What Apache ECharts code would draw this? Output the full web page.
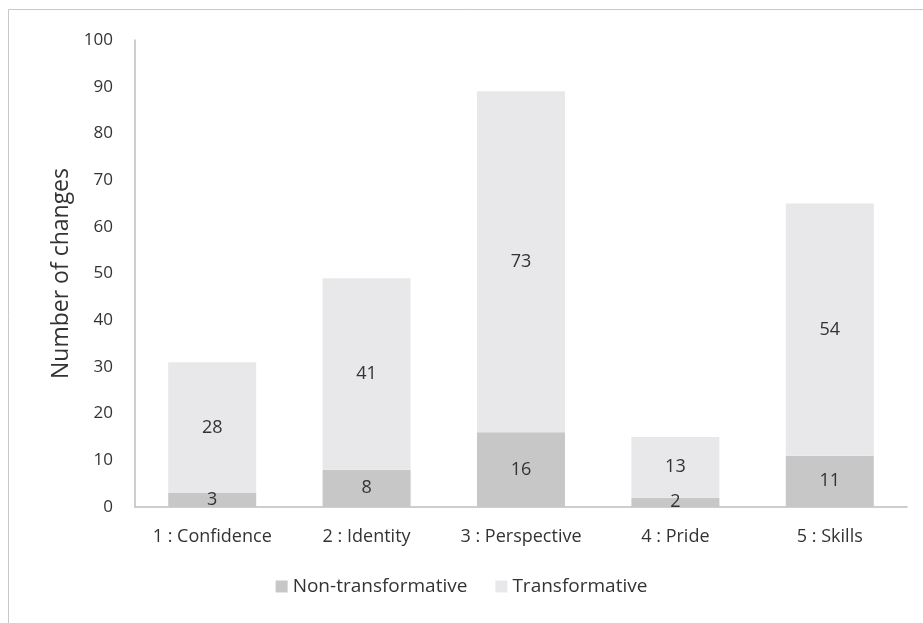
<html>
<head>
    <meta charset="utf-8" />
    <title>Number of changes</title>
    <script src="https://cdn.jsdelivr.net/npm/echarts@6/dist/echarts.min.js"></script>
    <style>
        body { margin: 0; background: #fff; }
        #chart { width: 923px; height: 623px; }
    </style>
</head>
<body>
    <div id="chart"></div>
    <script type="text/javascript">
        // chart data
        var categories = ['1 : Confidence', '2 : Identity', '3 : Perspective', '4 : Pride', '5 : Skills'];
        var nonTransformative = [3, 8, 16, 2, 11];
        var transformative = [28, 41, 73, 13, 54];
        var yTicks = { min: 0, max: 100, interval: 10 };

        var fontFamily = '"Open Sans", "Noto Sans", sans-serif';
        var textColor = '#333333';

        var chart = echarts.init(document.getElementById('chart'));

        var labelStyle = {
            show: true,
            position: 'inside',
            color: textColor,
            fontSize: 18,
            fontFamily: fontFamily
        };

        var option = {
            animation: false,
            backgroundColor: '#fff',
            grid: { left: 135, right: 16, top: 40, bottom: 116 },
            // outer frame lines (top and left only, as in the picture)
            graphic: [
                { type: 'line', shape: { x1: 8.5, y1: 9.5, x2: 923, y2: 9.5 }, style: { stroke: '#c8c8c8', lineWidth: 1 } },
                { type: 'line', shape: { x1: 8.5, y1: 9.5, x2: 8.5, y2: 623 }, style: { stroke: '#c8c8c8', lineWidth: 1 } }
            ],
            legend: {
                bottom: 22,
                left: 'center',
                itemWidth: 12,
                itemHeight: 12,
                itemGap: 28,
                icon: 'rect',
                textStyle: { color: textColor, fontSize: 19, fontFamily: fontFamily },
                data: ['Non-transformative', 'Transformative']
            },
            xAxis: {
                type: 'category',
                data: categories,
                axisLine: { lineStyle: { color: '#bfbfbf', width: 1.5 } },
                axisTick: { show: false },
                axisLabel: { interval: 0, hideOverlap: false, color: textColor, fontSize: 18, fontFamily: fontFamily, margin: 21 }
            },
            yAxis: {
                type: 'value',
                min: yTicks.min,
                max: yTicks.max,
                interval: yTicks.interval,
                name: 'Number of changes',
                nameLocation: 'middle',
                nameGap: 60,
                nameTextStyle: { color: textColor, fontSize: 23, fontFamily: fontFamily },
                axisLine: { show: true, lineStyle: { color: '#bfbfbf', width: 1.5 } },
                axisTick: { show: false },
                splitLine: { show: false },
                axisLabel: { color: textColor, fontSize: 17, fontFamily: fontFamily, margin: 22 }
            },
            series: [
                {
                    name: 'Non-transformative',
                    type: 'bar',
                    stack: 'total',
                    barWidth: '57%',
                    itemStyle: { color: '#c7c7c7' },
                    label: labelStyle,
                    data: nonTransformative
                },
                {
                    name: 'Transformative',
                    type: 'bar',
                    stack: 'total',
                    barWidth: '57%',
                    itemStyle: { color: '#e8e8ea' },
                    label: labelStyle,
                    data: transformative
                }
            ]
        };
        option && chart.setOption(option);
    </script>
</body>
</html>
